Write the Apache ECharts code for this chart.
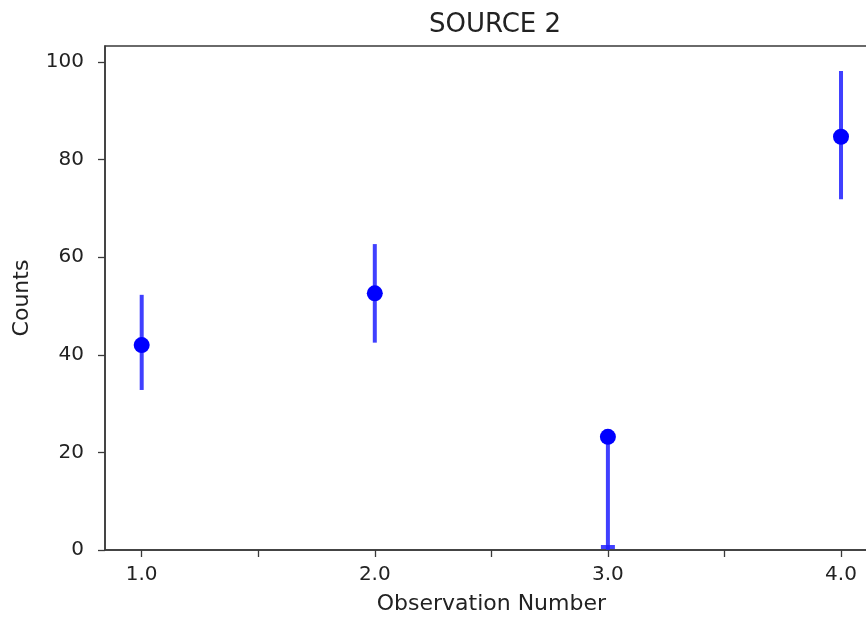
<!DOCTYPE html>
<html>
<head>
<meta charset="utf-8">
<script src="https://cdn.jsdelivr.net/npm/echarts@6/dist/echarts.min.js"></script>
<style>html,body{margin:0;padding:0;background:#fff}#c{width:866px;height:622px}</style>
</head>
<body>
<div id="c"></div>
<script>
const obs = [1, 2, 3, 4];
const counts = [42.0, 52.6, 23.2, 84.7];
const errLow = [32.8, 42.5, 0, 71.9];
const errHigh = [52.3, 62.7, 23.2, 98.2];
const xTicks = [1, 1.5, 2, 2.5, 3, 3.5, 4];
const xLabels = [1, 2, 3, 4];
const yTicks = [0, 20, 40, 60, 80, 100];

const chart = echarts.init(document.getElementById('c'));
const txt = '#222';
const axisCol = '#3a3a3a';
const font = 'DejaVu Sans';
chart.setOption({
  animation: false,
  title: {
    text: 'SOURCE 2', left: 490, top: 7, textAlign: 'center',
    textStyle: { fontFamily: font, fontSize: 26, fontWeight: 'normal', color: txt }
  },
  grid: {
    left: 105, top: 46, width: 772.7, height: 504,
    outerBoundsMode: 'none', containLabel: false,
    show: true, borderColor: axisCol, borderWidth: 1.5
  },
  xAxis: {
    type: 'value', min: 0.8426, max: 4.1574,
    name: 'Observation Number', nameLocation: 'middle', nameGap: 43,
    nameTextStyle: { fontFamily: font, fontSize: 22, color: txt },
    axisLine: { show: true, lineStyle: { color: axisCol, width: 1.5 } },
    axisTick: { show: true, customValues: xTicks, length: 7, lineStyle: { color: axisCol, width: 1.3 } },
    axisLabel: { customValues: xLabels, formatter: v => v.toFixed(1), fontFamily: font, fontSize: 20, color: txt, margin: 15 },
    splitLine: { show: false }
  },
  yAxis: {
    type: 'value', min: 0, max: 103.3,
    name: 'Counts', nameLocation: 'middle', nameGap: 72,
    nameTextStyle: { fontFamily: font, fontSize: 22, color: txt },
    axisLine: { show: true, lineStyle: { color: axisCol, width: 1.5 } },
    axisTick: { show: true, customValues: yTicks, length: 7, lineStyle: { color: axisCol, width: 1.3 } },
    axisLabel: { customValues: yTicks, fontFamily: font, fontSize: 20, color: txt, margin: 21 },
    splitLine: { show: false }
  },
  series: [
    {
      type: 'custom',
      data: obs.map((x, i) => [x, errLow[i], errHigh[i]]),
      renderItem: function (params, api) {
        const p1 = api.coord([api.value(0), api.value(1)]);
        const p2 = api.coord([api.value(0), api.value(2)]);
        const children = [{
          type: 'line',
          shape: { x1: p1[0], y1: p1[1], x2: p2[0], y2: p2[1] },
          style: { stroke: 'rgba(30,30,255,0.85)', lineWidth: 4 }
        }];
        if (api.value(1) <= 0) {
          children.push({
            type: 'line',
            shape: { x1: p1[0] - 7, y1: p1[1] - 3, x2: p1[0] + 7, y2: p1[1] - 3 },
            style: { stroke: 'rgba(30,30,255,0.85)', lineWidth: 4 }
          });
        }
        return { type: 'group', children: children };
      },
      z: 2
    },
    {
      type: 'scatter',
      data: obs.map((x, i) => [x, counts[i]]),
      symbolSize: 16,
      itemStyle: { color: '#0000ff', opacity: 1 },
      z: 3
    }
  ]
});
</script>
</body>
</html>
